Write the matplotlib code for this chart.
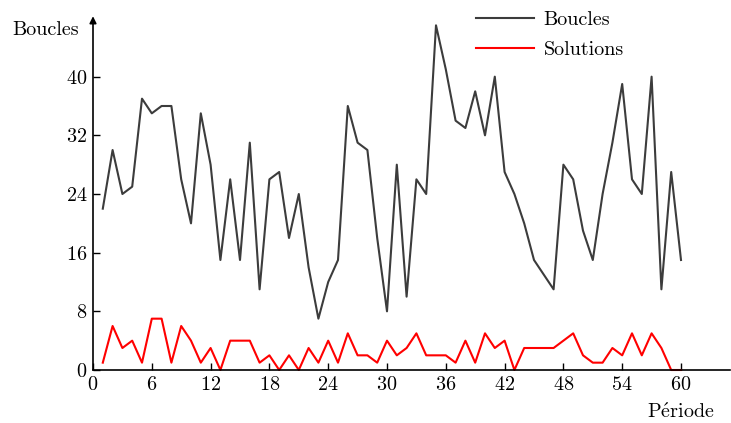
import matplotlib
matplotlib.use("Agg")
import matplotlib.pyplot as plt

plt.rcParams['font.family'] = ['cmr10', 'DejaVu Serif']
plt.rcParams['mathtext.fontset'] = 'cm'
plt.rcParams['axes.formatter.use_mathtext'] = True

# data
periode = list(range(1, 61))
boucles = [22, 30, 24, 25, 37, 35, 36, 36, 26, 20,
           35, 28, 15, 26, 15, 31, 11, 26, 27, 18,
           24, 14, 7, 12, 15, 36, 31, 30, 18, 8,
           28, 10, 26, 24, 47, 41, 34, 33, 38, 32,
           40, 27, 24, 20, 15, 13, 11, 28, 26, 19,
           15, 24, 31, 39, 26, 24, 40, 11, 27, 15]
solutions = [1, 6, 3, 4, 1, 7, 7, 1, 6, 4,
             1, 3, 0, 4, 4, 4, 1, 2, 0, 2,
             0, 3, 1, 4, 1, 5, 2, 2, 1, 4,
             2, 3, 5, 2, 2, 2, 1, 4, 1, 5,
             3, 4, 0, 3, 3, 3, 3, 4, 5, 2,
             1, 1, 3, 2, 5, 2, 5, 3, 0, 0]
xticks = list(range(0, 61, 6))
yticks = list(range(0, 41, 8))

fs = 14.5
fig = plt.figure(figsize=(7.31, 4.23), dpi=100)
ax = fig.add_axes([93 / 731, 53 / 423, 637 / 731, 352 / 423])

ax.plot(periode, boucles, color='#3c3c3c', lw=1.5, label='Boucles', clip_on=False)
ax.plot(periode, solutions, color='#ff0000', lw=1.5, label='Solutions', clip_on=False)

ax.set_xlim(0, 65)
ax.set_ylim(0, 48)
ax.set_xticks(xticks)
ax.set_yticks(yticks)
ax.tick_params(direction='in', length=5, width=1, labelsize=fs, pad=4)

for s in ['top', 'right']:
    ax.spines[s].set_visible(False)
ax.spines['bottom'].set_linewidth(1.2)
ax.spines['left'].set_visible(False)
ax.annotate('', xy=(0, 1.005), xytext=(0, 0), xycoords='axes fraction',
            arrowprops=dict(arrowstyle='-|>', lw=1.2, color='black',
                            mutation_scale=10, shrinkA=0, shrinkB=0))

fig.text(12 / 731, 1 - 30 / 423, 'Boucles', fontsize=fs, ha='left', va='center')
fig.text(715 / 731, 1 - 412 / 423, r'P$\mathrm{\acute{e}}$riode', fontsize=fs,
         ha='right', va='center')

leg = ax.legend(loc='upper left', bbox_to_anchor=(468 / 731, 1 - 3 / 423), bbox_transform=fig.transFigure,
                frameon=False, fontsize=fs, handlelength=2.9, handletextpad=0.45,
                labelspacing=0.6, borderaxespad=0)

fig.savefig('out.png', dpi=100)
